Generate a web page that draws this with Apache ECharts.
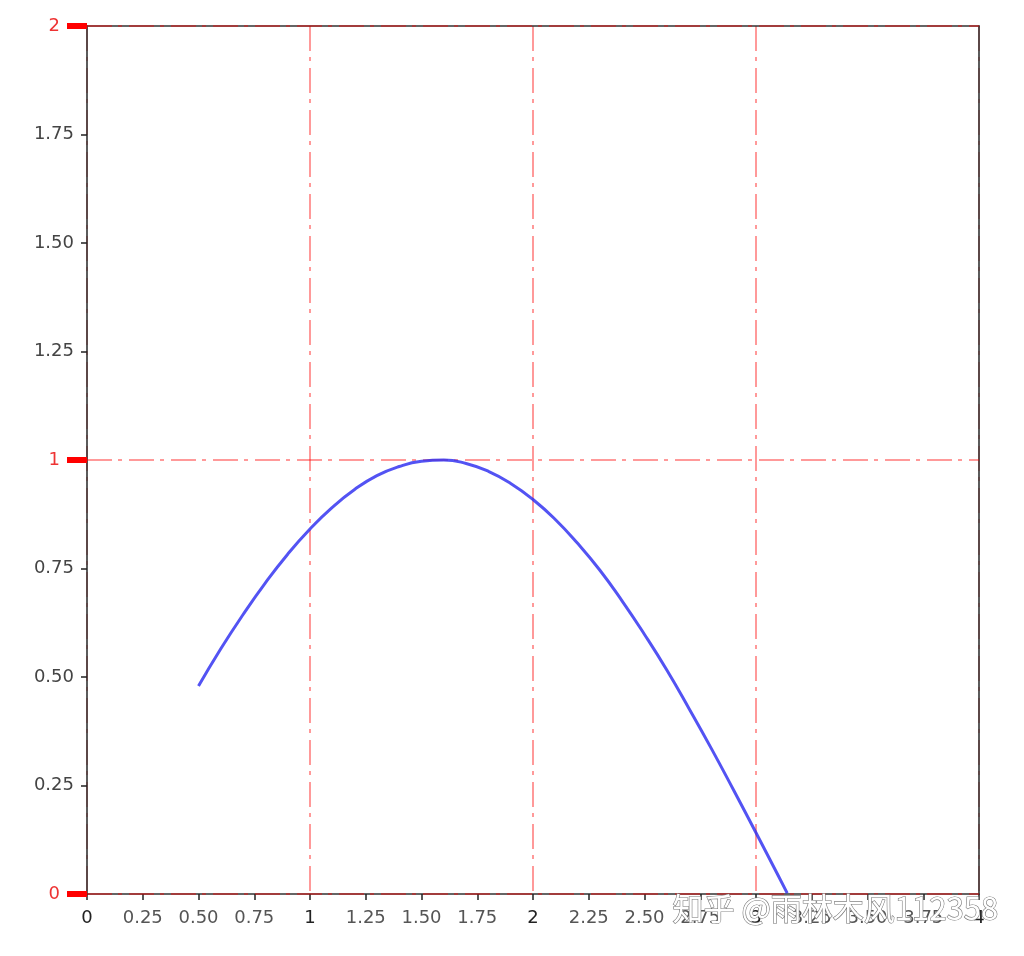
<!DOCTYPE html>
<html>
<head>
<meta charset="utf-8">
<script src="https://cdn.jsdelivr.net/npm/echarts@6/dist/echarts.min.js"></script>
<style>html,body{margin:0;padding:0;background:#fff;}#c{width:1024px;height:956px;}</style>
</head>
<body>
<div id="c"></div>
<script>
var xValues = [0.5,0.6,0.7,0.8,0.9,1.0,1.1,1.2,1.3,1.4,1.5,1.6,1.7,1.8,1.9,2.0,2.1,2.2,2.3,2.4,2.5,2.6,2.7,2.8,2.9,3.0,3.1,3.14];
var yValues = [0.479,0.565,0.644,0.717,0.783,0.841,0.891,0.932,0.964,0.985,0.997,1.000,0.992,0.974,0.946,0.909,0.863,0.808,0.746,0.675,0.598,0.516,0.427,0.335,0.239,0.141,0.042,0.002];
var xRange = [0, 4];
var yRange = [0, 2];
var minorStep = 0.25;
var majorStep = 1;
var watermark = '知乎 @雨林木风112358';

var points = xValues.map(function (x, i) { return [x, yValues[i]]; });
var dashDot = [25, 6, 4, 7];
var gridRed = 'rgba(255,0,0,0.4)';
var frame = '#333';
var font = 'DejaVu Sans';

function frameAxis(pos) {
  return {
    type: 'value', min: pos === 'top' ? xRange[0] : yRange[0], max: pos === 'top' ? xRange[1] : yRange[1],
    position: pos, z: 3,
    axisLine: { show: true, onZero: false, lineStyle: { color: frame, width: 1.6 } },
    axisTick: { show: false }, axisLabel: { show: false }, splitLine: { show: false }
  };
}

var chart = echarts.init(document.getElementById('c'));
chart.setOption({
  animation: false,
  backgroundColor: '#fff',
  grid: { left: 87, right: 45, top: 26, bottom: 62 },
  xAxis: [
    {
      type: 'value', min: xRange[0], max: xRange[1], interval: minorStep, position: 'bottom', z: 3,
      axisLine: { show: true, onZero: false, lineStyle: { color: frame, width: 1.6 } },
      axisTick: { show: true, length: 6, lineStyle: { color: '#222', width: 1.5 } },
      splitLine: { show: false },
      axisLabel: {
        margin: 15, fontFamily: font,
        formatter: function (v) {
          if (Math.abs(v - Math.round(v)) < 1e-9) return '{maj|' + Math.round(v) + '}';
          return '{min|' + v.toFixed(2) + '}';
        },
        rich: {
          maj: { fontSize: 18, color: '#222', fontFamily: font, padding: [0, 0, 8, 0] },
          min: { fontSize: 18, color: '#555', fontFamily: font }
        }
      }
    },
    {
      type: 'value', min: xRange[0], max: xRange[1], interval: majorStep, position: 'bottom', z: 1,
      axisLine: { show: false }, axisTick: { show: false }, axisLabel: { show: false },
      splitLine: { show: true, lineStyle: { color: gridRed, width: 2, type: dashDot } }
    },
    frameAxis('top')
  ],
  yAxis: [
    {
      type: 'value', min: yRange[0], max: yRange[1], interval: minorStep, position: 'left', z: 3,
      axisLine: { show: true, onZero: false, lineStyle: { color: frame, width: 1.6 } },
      axisTick: { show: true, length: 6, lineStyle: { color: '#222', width: 1.5 } },
      splitLine: { show: false },
      axisLabel: {
        margin: 13, fontSize: 18, color: '#444', fontFamily: font,
        formatter: function (v) {
          if (Math.abs(v - Math.round(v)) < 1e-9) return '';
          return v.toFixed(2);
        }
      }
    },
    {
      type: 'value', min: yRange[0], max: yRange[1], interval: majorStep, position: 'left', z: 4,
      axisLine: { show: false },
      axisTick: { show: true, length: 20, lineStyle: { color: '#ff0000', width: 6 } },
      splitLine: { show: true, lineStyle: { color: gridRed, width: 2, type: dashDot } },
      axisLabel: { margin: 27, fontSize: 18, color: '#ee3333', fontFamily: font }
    },
    frameAxis('right')
  ],
  series: [{
    type: 'line', xAxisIndex: 0, yAxisIndex: 0, data: points, smooth: true, showSymbol: false,
    lineStyle: { color: 'rgba(40,40,240,0.8)', width: 3 }, z: 5
  }],
  graphic: [{
    type: 'text', left: 672, top: 892, z: 100,
    style: { text: watermark, fontSize: 31, fontFamily: 'Noto Sans CJK SC', fill: '#fff', stroke: '#777', lineWidth: 1.2 }
  }]
});
</script>
</body>
</html>
